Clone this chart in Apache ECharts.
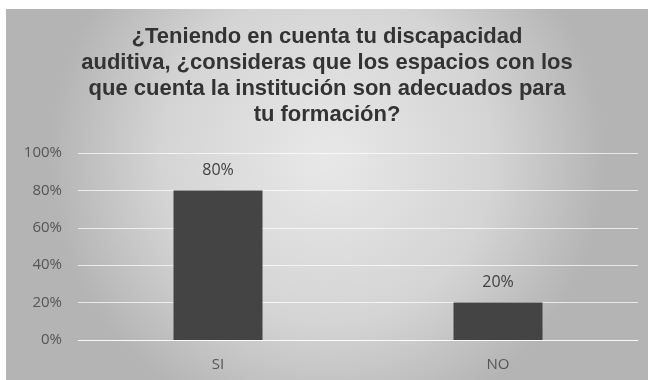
<!DOCTYPE html>
<html>
<head>
<meta charset="utf-8">
<style>
  html, body { margin: 0; padding: 0; background: #ffffff; }
  #chart { position: absolute; left: 6px; top: 9px; width: 642px; height: 371px; }
</style>
<script src="https://cdn.jsdelivr.net/npm/echarts@6/dist/echarts.min.js"></script>
</head>
<body>
<div id="chart"></div>
<script>
// Survey answers and their share of respondents (percent)
const categories = ['SI', 'NO'];
const shares = [80, 20];
const yTicks = [0, 20, 40, 60, 80, 100];

const titleText = '¿Teniendo en cuenta tu discapacidad\nauditiva, ¿consideras que los espacios con los\nque cuenta la institución son adecuados para\ntu formación?';

const chart = echarts.init(document.getElementById('chart'), null, { renderer: 'canvas' });

chart.setOption({
  backgroundColor: {
    type: 'radial', x: 0.5, y: 0.4, r: 0.75,
    colorStops: [
      { offset: 0, color: '#e8e8e8' },
      { offset: 0.6, color: '#d4d4d4' },
      { offset: 1, color: '#b4b4b4' }
    ]
  },
  title: {
    text: titleText,
    left: 'center',
    top: 10,
    textStyle: {
      fontFamily: 'Liberation Sans, Arial, sans-serif',
      fontWeight: 'bold',
      fontSize: 22,
      lineHeight: 26,
      color: '#333333'
    }
  },
  grid: { left: 72, top: 144, width: 560, height: 187, containLabel: false },
  xAxis: {
    type: 'category',
    data: categories,
    axisLine: { show: true, lineStyle: { color: 'rgba(255,255,255,0.75)', width: 1 } },
    axisTick: { show: false },
    axisLabel: {
      margin: 17,
      fontFamily: 'Open Sans, Liberation Sans, sans-serif',
      fontSize: 15,
      color: '#555555'
    }
  },
  yAxis: {
    type: 'value',
    min: yTicks[0],
    max: yTicks[yTicks.length - 1],
    interval: yTicks[1] - yTicks[0],
    axisLine: { show: false },
    axisTick: { show: false },
    splitLine: { lineStyle: { color: 'rgba(255,255,255,0.7)', width: 1 } },
    axisLabel: {
      margin: 16,
      formatter: '{value}%',
      fontFamily: 'Open Sans, Liberation Sans, sans-serif',
      fontSize: 15,
      color: '#555555'
    }
  },
  series: [{
    type: 'bar',
    data: shares,
    barWidth: 89,
    itemStyle: { color: '#444444' },
    label: {
      show: true,
      position: 'top',
      distance: 12,
      formatter: '{c}%',
      fontFamily: 'Open Sans, Liberation Sans, sans-serif',
      fontSize: 16,
      color: '#404040'
    }
  }]
});
</script>
</body>
</html>
